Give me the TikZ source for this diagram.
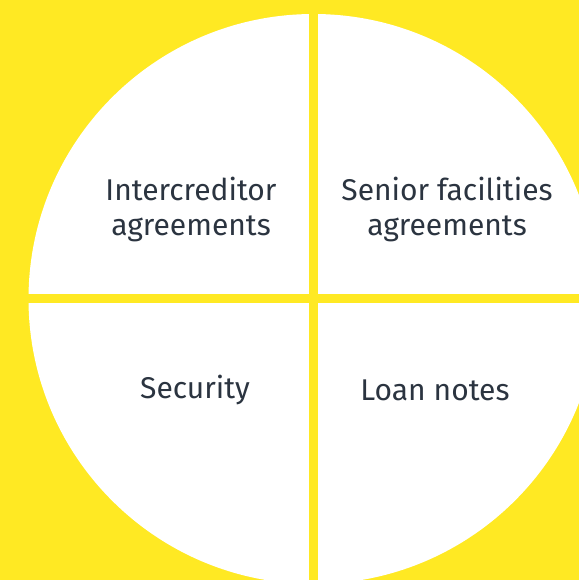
\documentclass[tikz,border=0pt]{standalone}
\usepackage{fontspec}
\setmainfont{Fira Sans}
\definecolor{sunyellow}{HTML}{FFE923}
\definecolor{inkslate}{HTML}{2B3440}

\begin{document}
\begin{tikzpicture}[x=1pt, y=-1pt,
        label/.style={text=inkslate, align=center, font=\fontsize{30}{35}\selectfont}]
        \fill[sunyellow] (0, 0) rectangle (579, 580);
        \useasboundingbox (0, 0) rectangle (579, 580);

        \begin{scope}
            \clip (0, 0) rectangle (579, 580);
            \fill[white] (313.5, 299) circle (285);
            \draw[sunyellow, line width=9pt] (313.5, 0) -- (313.5, 580);
            \draw[sunyellow, line width=9pt] (0, 298.5) -- (579, 298.5);
        \end{scope}

        \node[label] (a) at (191, 209) {Intercreditor\\agreements};
        \node[label] (b) at (447, 209) {Senior facilities\\agreements};
        \node[label] (c) at (195, 390) {Security};
        \node[label] (d) at (435, 390) {Loan notes};
    \end{tikzpicture}
\end{document}
